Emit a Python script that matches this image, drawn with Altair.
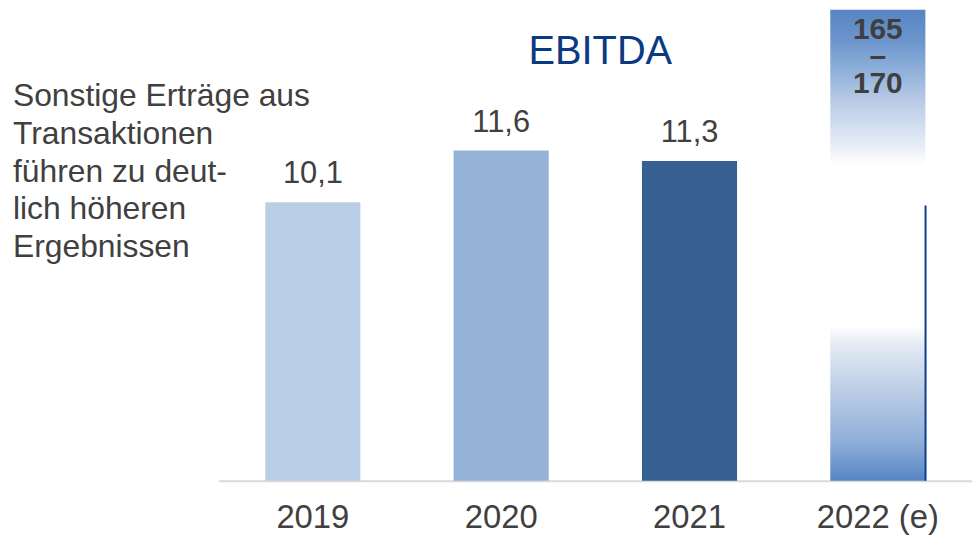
import altair as alt
import pandas as pd

# ---- data ----
years = ["2019", "2020", "2021", "2022 (e)"]
ebitda = [10.1, 11.6, 11.3]          # actual EBITDA
forecast_low, forecast_high = 165, 170  # 2022 (e) range, off the scale
bar_colors = ["#b9cde5", "#95b3d7", "#376092"]
title_text = "EBITDA"
note_lines = ["Sonstige Erträge aus", "Transaktionen", "führen zu deut-",
              "lich höheren", "Ergebnissen"]
axis_floor = 2.0
axis_ceiling = 15.7
edge_top = 10.0   # where the dark edge of the forecast bar begins

df = pd.DataFrame({
    "year": years,
    "value": ebitda + [(forecast_low + forecast_high) / 2],
    "base": [axis_floor] * 4,
    "edge": [axis_floor, axis_floor, axis_floor, edge_top],
    "kind": ["actual"] * 3 + ["forecast"],
})
df["label"] = [f"{v:.1f}".replace(".", ",") for v in ebitda] + [
    f"{forecast_low}\n–\n{forecast_high}"]

TXT = "#404040"
SANS = "Liberation Sans, Arial, sans-serif"

x = alt.X("year:N", sort=years,
          scale=alt.Scale(paddingInner=0.495, paddingOuter=0.2475),
          axis=alt.Axis(title=None, labelAngle=0, ticks=False, grid=False,
                        domainColor="#d9d9d9", domainWidth=2,
                        labelFont=SANS, labelFontSize=33, labelColor=TXT,
                        labelPadding=21))
yscale = alt.Scale(domain=[axis_floor, axis_ceiling], clamp=True, zero=False, nice=False)
y = alt.Y("value:Q", scale=yscale, axis=None)

base = alt.Chart(df)

bars = base.transform_filter("datum.kind == 'actual'").mark_bar().encode(
    x=x, y=y, y2="base:Q",
    color=alt.Color("year:N", scale=alt.Scale(domain=years[:3], range=bar_colors), legend=None),
)

grad = alt.Gradient(
    gradient="linear", x1=0, y1=0, x2=0, y2=1,
    stops=[
        alt.GradientStop(offset=0.0, color="#5585c3"),
        alt.GradientStop(offset=0.067, color="#6d95cc"),
        alt.GradientStop(offset=0.13, color="#8fb0da"),
        alt.GradientStop(offset=0.184, color="#b3c7e4"),
        alt.GradientStop(offset=0.29, color="#e8eef7"),
        alt.GradientStop(offset=0.33, color="#ffffff"),
        alt.GradientStop(offset=0.67, color="#ffffff"),
        alt.GradientStop(offset=0.71, color="#e4ebf5"),
        alt.GradientStop(offset=0.816, color="#b8cbe5"),
        alt.GradientStop(offset=0.92, color="#8eaed9"),
        alt.GradientStop(offset=1.0, color="#5585c3"),
    ],
)
fbar = base.transform_filter("datum.kind == 'forecast'").mark_bar(color=grad).encode(
    x=x, y=y, y2="base:Q")

edge = base.transform_filter("datum.kind == 'forecast'").mark_bar(
    color="#0b3d8c", width=2, xOffset=48).encode(
    x=x, y=alt.Y("edge:Q", scale=yscale, axis=None), y2="base:Q")

vlabels = base.transform_filter("datum.kind == 'actual'").mark_text(
    baseline="alphabetic", dy=-19, fontSize=31, font=SANS, color=TXT).encode(
    x=x, y=y, text="label:N")

flabel = base.transform_filter("datum.kind == 'forecast'").mark_text(
    baseline="alphabetic", dy=30, fontSize=30, font=SANS, fontWeight="bold",
    color="#3f3f3f", lineBreak="\n", lineHeight=27).encode(
    x=x, y=y, text="label:N")

one = alt.Chart(pd.DataFrame({"note": ["\n".join(note_lines)], "head": [title_text]}))
note = one.mark_text(align="left", baseline="alphabetic", fontSize=32, font=SANS,
                     color=TXT, lineBreak="\n", lineHeight=38).encode(
    x=alt.value(-207), y=alt.value(97), text="note:N")
title = one.mark_text(align="center", baseline="alphabetic", fontSize=40, font=SANS,
                      color="#0b3a82").encode(
    x=alt.value(384), y=alt.value(55), text="head:N")

chart = alt.layer(bars, fbar, edge, vlabels, flabel, note, title).properties(
    width=758, height=474, autosize="none",
    padding={"left": 212, "top": 0, "right": 0, "bottom": 54},
).configure_view(stroke=None)

chart.save("out.html", embed_options={"renderer": "svg", "actions": False})
